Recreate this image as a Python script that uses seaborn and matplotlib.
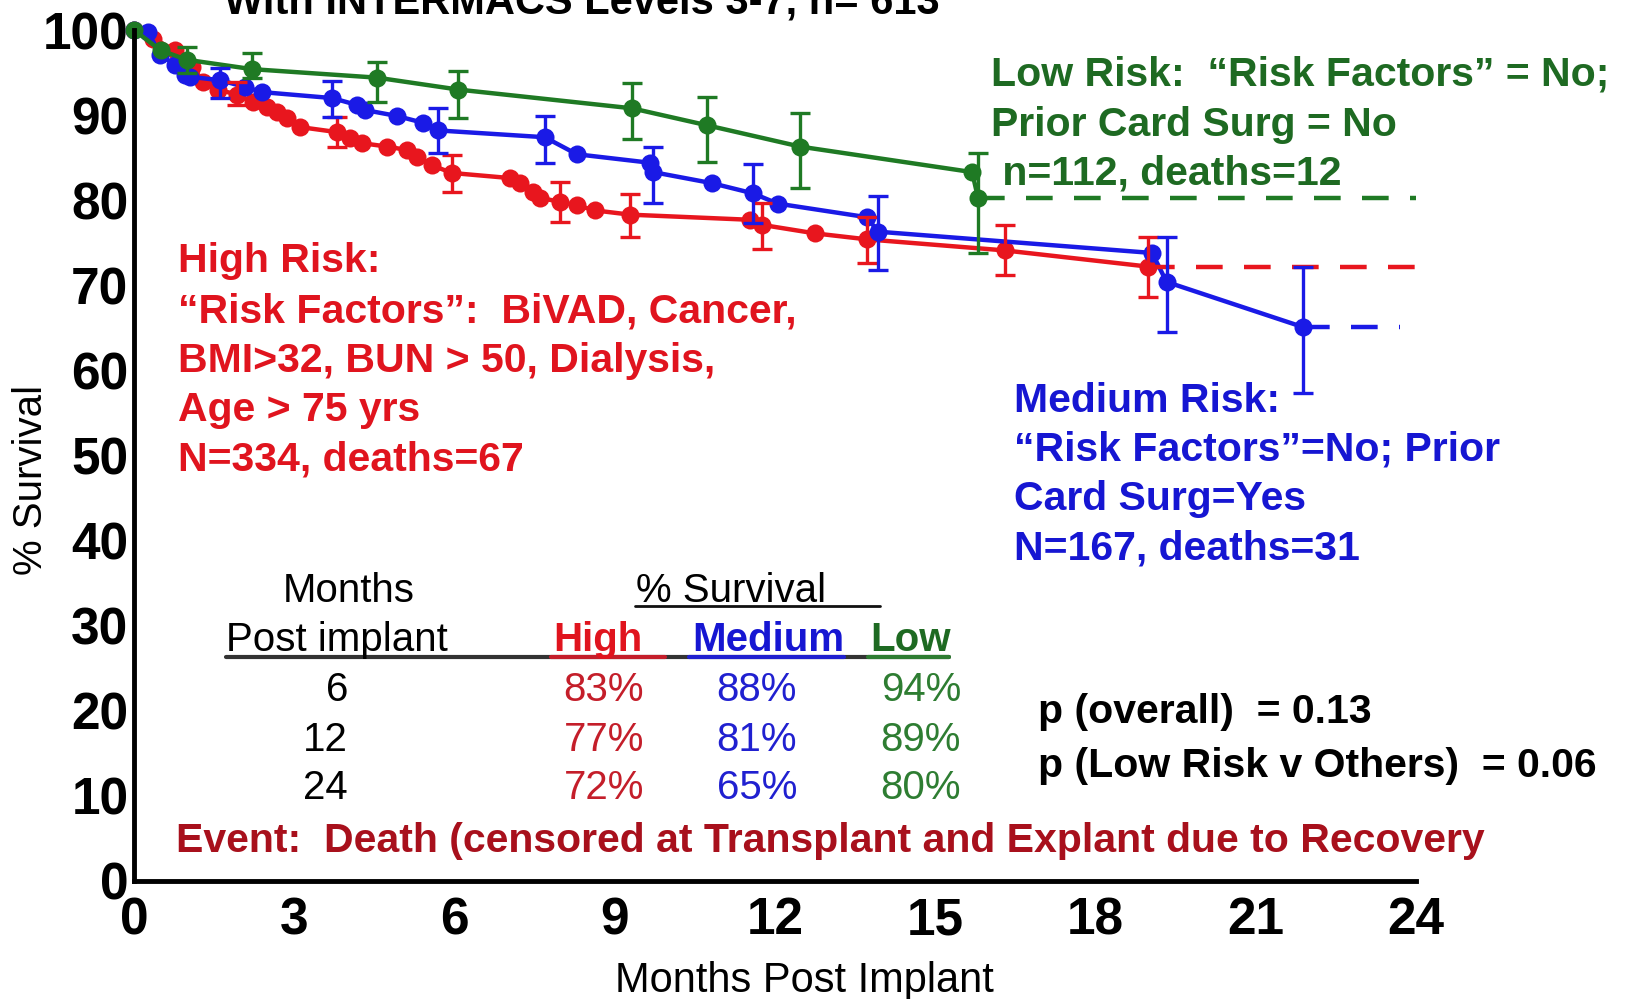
import numpy as np
import pandas as pd
import matplotlib
matplotlib.use("Agg")
import matplotlib.pyplot as plt
from matplotlib.lines import Line2D
import seaborn as sns


# ===============================
# DATA
# ===============================
GROUPS = ["High", "Medium", "Low"]

months_high = [0, 0.36, 0.77, 1.09, 1.3, 1.57, 1.93, 2.23, 2.49, 2.68, 2.86, 3.1,
               3.8, 4.04, 4.27, 4.74, 5.11, 5.3, 5.58, 5.95, 7.04, 7.23, 7.47, 7.6,
               7.97, 8.29, 8.63, 9.29, 11.53, 11.76, 12.75, 13.72, 16.3, 18.98]
surv_high = [100, 99.0, 97.6, 95.7, 93.9, 93.0, 92.4, 91.5, 90.9, 90.4, 89.7, 88.6,
             88.0, 87.3, 86.7, 86.3, 85.9, 85.1, 84.1, 83.2, 82.6, 82.0, 81.0, 80.3,
             79.8, 79.4, 78.8, 78.3, 77.7, 77.1, 76.1, 75.4, 74.1, 72.2]
err_months_high = [1.93, 3.8, 5.95, 7.97, 9.29, 11.76, 13.72, 16.3, 18.98]
err_lo_high = [91.2, 86.3, 81.0, 77.4, 75.7, 74.3, 72.6, 71.2, 68.6]
err_hi_high = [93.9, 89.8, 85.3, 82.1, 80.7, 79.7, 78.0, 77.1, 75.7]

months_med = [0, 0.26, 0.49, 0.77, 0.95, 1.05, 1.61, 2.08, 2.4, 3.71, 4.17, 4.32,
              4.92, 5.41, 5.69, 7.69, 8.29, 9.66, 9.72, 10.82, 11.59, 12.05, 13.72,
              13.93, 19.06, 19.33, 21.88]
surv_med = [100, 99.8, 97.1, 95.9, 94.7, 94.5, 94.1, 93.3, 92.7, 92.0, 91.2, 90.6,
            89.9, 89.1, 88.2, 87.4, 85.4, 84.4, 83.3, 82.0, 80.8, 79.6, 78.0,
            76.3, 73.8, 70.4, 65.1]
err_months_med = [1.61, 3.71, 5.69, 7.69, 9.72, 11.59, 13.93, 19.33, 21.88]
err_lo_med = [92.0, 89.8, 85.5, 84.4, 79.7, 77.3, 71.8, 64.5, 57.3]
err_hi_med = [95.5, 94.0, 90.8, 89.9, 86.3, 84.3, 80.5, 75.7, 72.2]

months_low = [0, 0.5, 0.99, 2.21, 4.55, 6.07, 9.32, 10.73, 12.47, 15.69, 15.8]
surv_low = [100, 97.6, 96.5, 95.4, 94.4, 93.0, 90.8, 88.8, 86.3, 83.3, 80.3]
err_months_low = [0.99, 2.21, 4.55, 6.07, 9.32, 10.73, 12.47, 15.8]
err_lo_low = [95.0, 94.4, 91.5, 89.7, 87.2, 84.5, 81.4, 73.8]
err_hi_low = [98.0, 97.3, 96.2, 95.2, 93.8, 92.1, 90.2, 85.5]

# last follow-up (dashed censored tail)
tail_end = [24, 23.7, 24]

table_months = ["6", "12", "24"]
table_high = ["83%", "77%", "72%"]
table_med = ["88%", "81%", "65%"]
table_low = ["94%", "89%", "80%"]

# ===============================
# STYLE
# ===============================
W, H = 1627, 999
PALETTE = {"High": "#e8161e", "Medium": "#1a1ae6", "Low": "#1f7a24"}
TEXT_C = {"High": "#e0141e", "Medium": "#1616d2", "Low": "#1e6a22"}
TABLE_C = {"High": "#c41e2a", "Medium": "#2020d0", "Low": "#2e7d32"}
EVENT_C = "#a8101c"

sns.set_theme(style="white")
plt.rcParams["font.family"] = ["Liberation Sans", "DejaVu Sans"]
plt.rcParams["text.color"] = "black"

fig = plt.figure(figsize=(W / 100, H / 100), dpi=100)
ax = fig.add_axes([134 / W, 1 - 881 / H, (1416 - 134) / W, (881 - 30) / H])

# ===============================
# CURVES
# ===============================
series = {
    "High": (months_high, surv_high, err_months_high, err_lo_high, err_hi_high),
    "Medium": (months_med, surv_med, err_months_med, err_lo_med, err_hi_med),
    "Low": (months_low, surv_low, err_months_low, err_lo_low, err_hi_low),
}

df = pd.concat([
    pd.DataFrame({"month": s[0], "surv": s[1], "risk": g}) for g, s in series.items()
], ignore_index=True)

sns.lineplot(data=df, x="month", y="surv", hue="risk", hue_order=GROUPS,
             palette=PALETTE, estimator=None, sort=False, marker="o",
             markersize=13, markeredgewidth=0, linewidth=3.2, legend=False, ax=ax)

for g, end in zip(GROUPS, tail_end):
    t, s, et, lo, hi = series[g]
    ax.plot([t[-1], end], [s[-1], s[-1]], color=PALETTE[g], lw=3.2,
            dashes=(6, 4.8), clip_on=False)
    lookup = dict(zip(t, s))
    y = np.array([lookup[m] for m in et])
    ax.errorbar(et, y, yerr=[y - np.array(lo), np.array(hi) - y], fmt="none",
                ecolor=PALETTE[g], elinewidth=2.4, capsize=7, capthick=2.4,
                clip_on=False)

for ln in ax.lines:
    ln.set_clip_on(False)

# ===============================
# AXES
# ===============================
ax.set_xlim(0, 24)
ax.set_ylim(0, 100)
ax.set_xticks(range(0, 25, 3))
ax.set_xticks(np.arange(0, 24.1, 1.5), minor=True)
ax.set_yticks(range(0, 101, 10))
ax.set_yticks(range(0, 101, 2), minor=True)
ax.set_xlabel("")
ax.set_ylabel("")
sns.despine(ax=ax)
for sp in ["left", "bottom"]:
    ax.spines[sp].set_linewidth(3.5)
    ax.spines[sp].set_color("black")
ax.tick_params(which="major", direction="in", length=14, width=2.5,
               labelsize=37, colors="black")
ax.tick_params(which="minor", direction="in", length=7, width=2, colors="black")
ax.tick_params(axis="x", which="major", pad=11)
ax.tick_params(axis="y", which="major", pad=4)
for lab in ax.get_xticklabels() + ax.get_yticklabels():
    lab.set_fontweight("bold")


# ===============================
# TEXT
# ===============================
def ftext(x, y, s, **kw):
    kw.setdefault("va", "baseline")
    kw.setdefault("color", "black")
    return fig.text(x / W, 1 - y / H, s, **kw)


def hline(x0, x1, y, color, lw):
    fig.add_artist(Line2D([x0 / W, x1 / W], [1 - y / H, 1 - y / H],
                          transform=fig.transFigure, color=color, lw=lw))


# title is cropped at the top edge, as in the source figure
ftext(582, 13, "With INTERMACS Levels 3-7, n= 613", ha="center",
      fontsize=30, fontweight="bold")
ftext(31, 480, "% Survival", rotation=90, ha="center", va="center", fontsize=29)
ftext(804, 992, "Months Post Implant", ha="center", fontsize=30)

low_lines = ["Low Risk:  \u201cRisk Factors\u201d = No;", "Prior Card Surg = No",
             " n=112, deaths=12"]
for y, s in zip([85, 136, 184], low_lines):
    ftext(991, y, s, fontsize=29.5, fontweight="bold", color=TEXT_C["Low"])

high_lines = ["High Risk:", "\u201cRisk Factors\u201d:  BiVAD, Cancer,",
              "BMI>32, BUN > 50, Dialysis,", "Age > 75 yrs", "N=334, deaths=67"]
for y, s in zip([272, 322, 372, 421, 471], high_lines):
    ftext(178, y, s, fontsize=29.5, fontweight="bold", color=TEXT_C["High"])

med_lines = ["Medium Risk:", "\u201cRisk Factors\u201d=No; Prior",
             "Card Surg=Yes", "N=167, deaths=31"]
for y, s in zip([412, 461, 510, 559], med_lines):
    ftext(1014, y, s, fontsize=29.5, fontweight="bold", color=TEXT_C["Medium"])

# survival table
ftext(349, 602, "Months", ha="center", fontsize=29)
ftext(731, 602, "% Survival", ha="center", fontsize=29)
hline(635, 880, 606, "#111111", 2)
ftext(226, 651, "Post implant", fontsize=29)
hline(226, 949, 657, "#333333", 3)
for x0, x1, g in [(551, 665, "High"), (689, 844, "Medium"), (868, 949, "Low")]:
    hline(x0, x1, 657, TABLE_C[g], 3)
for x, g in zip([553, 692, 870], GROUPS):
    ftext(x, 651, g, fontsize=29, fontweight="bold", color=TEXT_C[g])
for i, y in enumerate([701, 751, 799]):
    ftext(348, y, table_months[i], ha="right", fontsize=29)
    ftext(644, y, table_high[i], ha="right", fontsize=29, color=TABLE_C["High"])
    ftext(797, y, table_med[i], ha="right", fontsize=29, color=TABLE_C["Medium"])
    ftext(961, y, table_low[i], ha="right", fontsize=29, color=TABLE_C["Low"])

ftext(1038, 723, "p (overall)  = 0.13", fontsize=29.5, fontweight="bold")
ftext(1038, 777, "p (Low Risk v Others)  = 0.06", fontsize=29.5, fontweight="bold")
ftext(176, 852, "Event:  Death (censored at Transplant and Explant due to Recovery",
      fontsize=29.5, fontweight="bold", color=EVENT_C)

fig.savefig("out.png", dpi=100, facecolor="white")
